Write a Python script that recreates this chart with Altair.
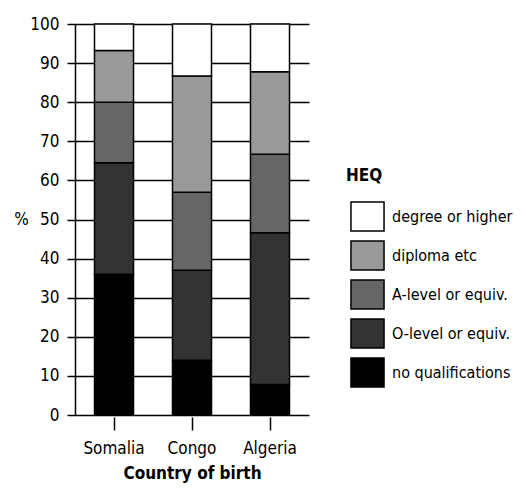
import altair as alt
import pandas as pd

countries = ["Somalia", "Congo", "Algeria"]
levels = ["degree or higher", "diploma etc", "A-level or equiv.", "O-level or equiv.", "no qualifications"]
colors = ["#ffffff", "#999999", "#666666", "#333333", "#000000"]
# segment values (%) per country, ordered bottom to top: no qual, O-level, A-level, diploma, degree
somalia = [36.0, 28.5, 15.5, 13.2, 6.8]
congo = [14.0, 23.0, 20.0, 29.7, 13.3]
algeria = [7.8, 38.8, 20.1, 21.1, 12.2]
y_ticks = list(range(0, 101, 10))

bottom_up = levels[::-1]
rows = []
for c, vals in zip(countries, [somalia, congo, algeria]):
    for i, (lvl, v) in enumerate(zip(bottom_up, vals)):
        rows.append({"country": c, "HEQ": lvl, "pct": v, "ord": i})
df = pd.DataFrame(rows)

FONT = "DejaVu Sans Condensed, Liberation Sans Narrow, sans-serif"

chart = alt.Chart(df).mark_bar(stroke="black", strokeWidth=1.5, size=39).encode(
    x=alt.X("country:N", sort=countries,
            scale=alt.Scale(paddingInner=0.5, paddingOuter=0.25),
            axis=alt.Axis(title="Country of birth", labelAngle=0, domain=False,
                          tickSize=13, offset=2, tickColor="black", tickWidth=1.5,
                          labelFontSize=17, titleFontSize=17, titleFontWeight="bold",
                          labelPadding=10, titlePadding=9, labelColor="black", titleColor="black")),
    y=alt.Y("pct:Q", stack="zero", scale=alt.Scale(domain=[0, 100], nice=False),
            axis=alt.Axis(title="%", values=y_ticks, grid=True, gridColor="black", gridWidth=1.5,
                          domainColor="black", domainWidth=1.5, tickColor="black", tickWidth=1.5,
                          tickSize=8, labelPadding=8, labelFontSize=17, titleFontSize=17,
                          titleFontWeight="normal", titleAngle=0, titleX=-54, titleY=195,
                          titleAlign="center", titleBaseline="middle",
                          labelColor="black", titleColor="black")),
    color=alt.Color("HEQ:N", scale=alt.Scale(domain=levels, range=colors),
                    legend=alt.Legend(title="HEQ", orient="none", legendX=271, legendY=144,
                                      symbolType="M-1.14,-1L1.14,-1L1.14,1L-1.14,1Z",
                                      symbolSize=841, symbolStrokeColor="black",
                                      symbolStrokeWidth=1.5, symbolOffset=6,
                                      labelFontSize=16, titleFontSize=17, titleFontWeight="bold",
                                      titlePadding=16, rowPadding=4, labelOffset=9,
                                      padding=0, labelColor="black", titleColor="black",
                                      labelLimit=300)),
    order=alt.Order("ord:Q"),
).properties(
    width=234, height=391,
    autosize=alt.AutoSizeParams(type="none"),
    padding={"left": 67, "top": 16, "right": 209, "bottom": 68},
).configure(font=FONT).configure_view(stroke=None)

chart.save("out.html", embed_options={"renderer": "svg", "actions": False})
